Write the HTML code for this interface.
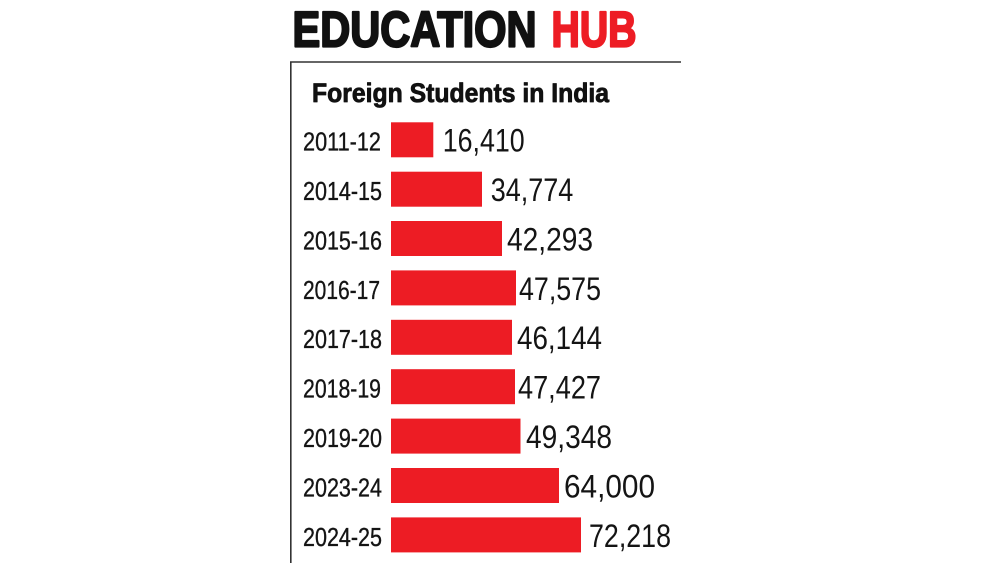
<!DOCTYPE html>
<html>
<head>
<meta charset="utf-8">
<style>
  html, body { margin: 0; padding: 0; background: #ffffff; }
  body { width: 1000px; height: 563px; overflow: hidden; }
  svg { display: block; }
  .lab { font-family: "Liberation Sans", sans-serif; font-size: 26px; fill: #141414; stroke: #141414; stroke-width: 0.35; }
  .val { font-family: "Liberation Sans", sans-serif; font-size: 32.5px; fill: #141414; }
</style>
</head>
<body>
<svg width="1000" height="563" viewBox="0 0 1000 563" xmlns="http://www.w3.org/2000/svg">
  <rect x="0" y="0" width="1000" height="563" fill="#ffffff"/>
  <!-- Title -->
  <text x="292.5" y="46.5" font-family="Liberation Sans, sans-serif" font-weight="bold" font-size="50" fill="#111111" stroke="#111111" stroke-width="2.2" stroke-linejoin="round" textLength="244" lengthAdjust="spacingAndGlyphs">EDUCATION</text>
  <text x="551.5" y="46.5" font-family="Liberation Sans, sans-serif" font-weight="bold" font-size="50" fill="#ED1C24" stroke="#ED1C24" stroke-width="2.2" stroke-linejoin="round" textLength="85" lengthAdjust="spacingAndGlyphs">HUB</text>
  <!-- Frame lines -->
  <line x1="290" y1="62" x2="681" y2="62" stroke="#333333" stroke-width="1.6"/>
  <line x1="290.8" y1="62" x2="290.8" y2="563" stroke="#333333" stroke-width="1.6"/>
  <!-- Subtitle -->
  <text x="312" y="102" font-family="Liberation Sans, sans-serif" font-weight="bold" font-size="27" fill="#111111" stroke="#111111" stroke-width="0.8" stroke-linejoin="round" textLength="297" lengthAdjust="spacingAndGlyphs">Foreign Students in India</text>

  <!-- Rows -->
  <g>
    <text class="lab" x="303" y="150.7" textLength="78" lengthAdjust="spacingAndGlyphs">2011-12</text>
    <rect x="391" y="122.3" width="42.3" height="35" fill="#ED1C24"/>
    <text class="val" x="442.7" y="151.7" textLength="82" lengthAdjust="spacingAndGlyphs">16,410</text>
  </g>
  <g>
    <text class="lab" x="303" y="200.1" textLength="79" lengthAdjust="spacingAndGlyphs">2014-15</text>
    <rect x="391" y="171.7" width="91" height="35" fill="#ED1C24"/>
    <text class="val" x="490.7" y="201.1" textLength="82.6" lengthAdjust="spacingAndGlyphs">34,774</text>
  </g>
  <g>
    <text class="lab" x="303" y="249.4" textLength="79" lengthAdjust="spacingAndGlyphs">2015-16</text>
    <rect x="391" y="221" width="111" height="35" fill="#ED1C24"/>
    <text class="val" x="507" y="250.4" textLength="86" lengthAdjust="spacingAndGlyphs">42,293</text>
  </g>
  <g>
    <text class="lab" x="303" y="298.8" textLength="77" lengthAdjust="spacingAndGlyphs">2016-17</text>
    <rect x="391" y="270.4" width="125" height="35" fill="#ED1C24"/>
    <text class="val" x="519" y="299.8" textLength="82" lengthAdjust="spacingAndGlyphs">47,575</text>
  </g>
  <g>
    <text class="lab" x="303" y="348.2" textLength="79" lengthAdjust="spacingAndGlyphs">2017-18</text>
    <rect x="391" y="319.8" width="121" height="35" fill="#ED1C24"/>
    <text class="val" x="517" y="349.2" textLength="85" lengthAdjust="spacingAndGlyphs">46,144</text>
  </g>
  <g>
    <text class="lab" x="303" y="397.6" textLength="78" lengthAdjust="spacingAndGlyphs">2018-19</text>
    <rect x="391" y="369.2" width="124" height="35" fill="#ED1C24"/>
    <text class="val" x="518" y="398.6" textLength="83" lengthAdjust="spacingAndGlyphs">47,427</text>
  </g>
  <g>
    <text class="lab" x="303" y="447" textLength="79" lengthAdjust="spacingAndGlyphs">2019-20</text>
    <rect x="391" y="418.6" width="129.5" height="35" fill="#ED1C24"/>
    <text class="val" x="526" y="448" textLength="86" lengthAdjust="spacingAndGlyphs">49,348</text>
  </g>
  <g>
    <text class="lab" x="303" y="496.4" textLength="79" lengthAdjust="spacingAndGlyphs">2023-24</text>
    <rect x="391" y="468" width="168" height="35" fill="#ED1C24"/>
    <text class="val" x="564" y="497.4" textLength="91" lengthAdjust="spacingAndGlyphs">64,000</text>
  </g>
  <g>
    <text class="lab" x="303" y="545.8" textLength="79" lengthAdjust="spacingAndGlyphs">2024-25</text>
    <rect x="391" y="517.4" width="190" height="35" fill="#ED1C24"/>
    <text class="val" x="589" y="546.8" textLength="82" lengthAdjust="spacingAndGlyphs">72,218</text>
  </g>
</svg>
</body>
</html>
